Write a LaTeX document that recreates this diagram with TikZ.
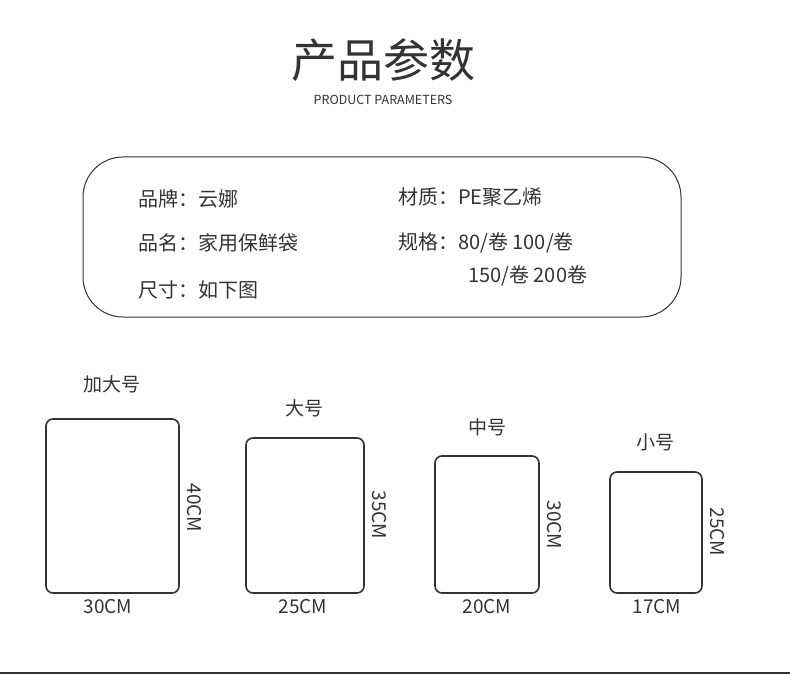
\documentclass[tikz,border=0pt]{standalone}
\usepackage{fontspec}
\setmainfont{Noto Sans CJK SC}
\definecolor{ink}{HTML}{333333}
\begin{document}
\begin{tikzpicture}[x=1pt,y=-1pt,
  lbl/.style={text=ink,font=\fontsize{19}{22}\selectfont,inner sep=0pt},
  bag/.style={draw=ink,line width=1.6pt,rounded corners=7pt},
  rowtxt/.style={text=ink,font=\fontsize{20}{24}\selectfont,anchor=west,inner sep=0pt}]
\useasboundingbox (0,0) rectangle (790,679);
\node[text=ink,font=\fontsize{46}{50}\selectfont] (title) at (383,60) {产品参数};
\node[text=ink,font=\fontsize{12.5}{14}\selectfont] (sub) at (383,100) {PRODUCT PARAMETERS};
\draw[ink,line width=1pt,rounded corners=40pt] (83,157) rectangle (681,317);
\node[rowtxt] (r1) at (138,199) {品牌：云娜};
\node[rowtxt] (r2) at (138,243) {品名：家用保鲜袋};
\node[rowtxt] (r3) at (138,290) {尺寸：如下图};
\node[rowtxt] (r4) at (398,197) {材质：PE聚乙烯};
\node[rowtxt] (r5) at (398,243) {规格：80/卷\ 100/卷};
\node[rowtxt] (r6) at (468,276) {150/卷\ 200卷};
\draw[bag] (46,419) rectangle (179,593);
\node[lbl] (n1) at (112,384) {加大号};
\node[lbl,rotate=-90] (h1) at (194,508) {40CM};
\node[lbl] (w1) at (108,607) {30CM};
\draw[bag] (246,438) rectangle (364,593);
\node[lbl] (n2) at (304,408) {大号};
\node[lbl,rotate=-90] (h2) at (379,515) {35CM};
\node[lbl] (w2) at (303,607) {25CM};
\draw[bag] (435,456) rectangle (539,593);
\node[lbl] (n3) at (487,427) {中号};
\node[lbl,rotate=-90] (h3) at (554,525) {30CM};
\node[lbl] (w3) at (487,607) {20CM};
\draw[bag] (610,472) rectangle (702,593);
\node[lbl] (n4) at (655,442) {小号};
\node[lbl,rotate=-90] (h4) at (717,532) {25CM};
\node[lbl] (w4) at (657,607) {17CM};
\draw[ink,line width=2pt] (0,673) -- (790,673);
\end{tikzpicture}
\end{document}
